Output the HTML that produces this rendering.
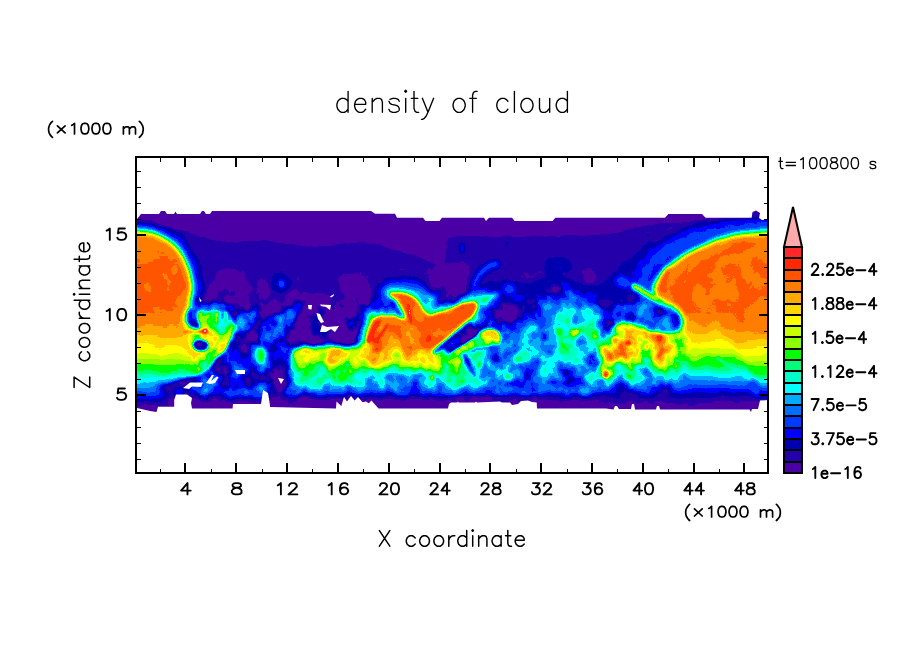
<!DOCTYPE html>
<html><head><meta charset="utf-8"><title>density of cloud</title>
<style>
html,body{margin:0;padding:0;background:#fff;}
body{width:904px;height:654px;overflow:hidden;font-family:"Liberation Sans",sans-serif;}
svg{display:block;position:absolute;left:0;top:0;}
text{font-family:"Liberation Sans",sans-serif;fill:#000;}
</style></head><body>
<svg width="904" height="654" viewBox="0 0 904 654">
<defs>
<filter id="cmap" filterUnits="userSpaceOnUse" x="0" y="0" width="904" height="654" color-interpolation-filters="sRGB"><feTurbulence type="fractalNoise" baseFrequency="0.052 0.046" numOctaves="3" seed="7" result="n"/><feColorMatrix in="n" type="matrix" values="0 0 0 0 1  1 0 0 0 0  0 0 0 0 1  0 0 0 0 1" result="n2"/><feComposite in="SourceGraphic" in2="n2" operator="arithmetic" k1="1" k2="0" k3="0" k4="0" result="p"/><feColorMatrix in="p" type="matrix" values="1 2 -1 0 0  1 2 -1 0 0  1 2 -1 0 0  0 0 0 0 1"/><feComponentTransfer><feFuncR type="discrete" tableValues="0.2941 0.2941 0.1373 0.0000 0.0000 0.0000 0.0000 0.0000 0.0000 0.0000 0.0000 0.0000 0.5490 0.7843 1.0000 1.0000 1.0000 1.0000 1.0000 1.0000 1.0000 1.0000"/><feFuncG type="discrete" tableValues="0.0000 0.0000 0.0000 0.0000 0.0000 0.2353 0.4314 0.6667 1.0000 1.0000 1.0000 1.0000 1.0000 1.0000 1.0000 0.8431 0.6667 0.4902 0.3333 0.1569 0.1569 0.6667"/><feFuncB type="discrete" tableValues="0.6471 0.6471 0.6667 0.6863 1.0000 1.0000 1.0000 1.0000 1.0000 0.7843 0.4706 0.0000 0.0000 0.0000 0.0000 0.0000 0.0000 0.0000 0.0000 0.0000 0.1569 0.6667"/></feComponentTransfer></filter>
<filter id="b0_5" filterUnits="userSpaceOnUse" x="60" y="150" width="780" height="330" color-interpolation-filters="sRGB"><feGaussianBlur stdDeviation="0.5"/></filter>
<filter id="b0_6" filterUnits="userSpaceOnUse" x="60" y="150" width="780" height="330" color-interpolation-filters="sRGB"><feGaussianBlur stdDeviation="0.6"/></filter>
<filter id="b0_8" filterUnits="userSpaceOnUse" x="60" y="150" width="780" height="330" color-interpolation-filters="sRGB"><feGaussianBlur stdDeviation="0.8"/></filter>
<filter id="b1" filterUnits="userSpaceOnUse" x="60" y="150" width="780" height="330" color-interpolation-filters="sRGB"><feGaussianBlur stdDeviation="1"/></filter>
<filter id="b1_2" filterUnits="userSpaceOnUse" x="60" y="150" width="780" height="330" color-interpolation-filters="sRGB"><feGaussianBlur stdDeviation="1.2"/></filter>
<filter id="b1_3" filterUnits="userSpaceOnUse" x="60" y="150" width="780" height="330" color-interpolation-filters="sRGB"><feGaussianBlur stdDeviation="1.3"/></filter>
<filter id="b1_4" filterUnits="userSpaceOnUse" x="60" y="150" width="780" height="330" color-interpolation-filters="sRGB"><feGaussianBlur stdDeviation="1.4"/></filter>
<filter id="b1_5" filterUnits="userSpaceOnUse" x="60" y="150" width="780" height="330" color-interpolation-filters="sRGB"><feGaussianBlur stdDeviation="1.5"/></filter>
<filter id="b1_6" filterUnits="userSpaceOnUse" x="60" y="150" width="780" height="330" color-interpolation-filters="sRGB"><feGaussianBlur stdDeviation="1.6"/></filter>
<filter id="b1_8" filterUnits="userSpaceOnUse" x="60" y="150" width="780" height="330" color-interpolation-filters="sRGB"><feGaussianBlur stdDeviation="1.8"/></filter>
<filter id="b2" filterUnits="userSpaceOnUse" x="60" y="150" width="780" height="330" color-interpolation-filters="sRGB"><feGaussianBlur stdDeviation="2"/></filter>
<filter id="b2_2" filterUnits="userSpaceOnUse" x="60" y="150" width="780" height="330" color-interpolation-filters="sRGB"><feGaussianBlur stdDeviation="2.2"/></filter>
<filter id="b2_5" filterUnits="userSpaceOnUse" x="60" y="150" width="780" height="330" color-interpolation-filters="sRGB"><feGaussianBlur stdDeviation="2.5"/></filter>
<filter id="b2_8" filterUnits="userSpaceOnUse" x="60" y="150" width="780" height="330" color-interpolation-filters="sRGB"><feGaussianBlur stdDeviation="2.8"/></filter>
<filter id="b3" filterUnits="userSpaceOnUse" x="60" y="150" width="780" height="330" color-interpolation-filters="sRGB"><feGaussianBlur stdDeviation="3"/></filter>
<filter id="b3_3" filterUnits="userSpaceOnUse" x="60" y="150" width="780" height="330" color-interpolation-filters="sRGB"><feGaussianBlur stdDeviation="3.3"/></filter>
<filter id="b3_4" filterUnits="userSpaceOnUse" x="60" y="150" width="780" height="330" color-interpolation-filters="sRGB"><feGaussianBlur stdDeviation="3.4"/></filter>
<filter id="b3_5" filterUnits="userSpaceOnUse" x="60" y="150" width="780" height="330" color-interpolation-filters="sRGB"><feGaussianBlur stdDeviation="3.5"/></filter>
<filter id="b4" filterUnits="userSpaceOnUse" x="60" y="150" width="780" height="330" color-interpolation-filters="sRGB"><feGaussianBlur stdDeviation="4"/></filter>
<filter id="b5" filterUnits="userSpaceOnUse" x="60" y="150" width="780" height="330" color-interpolation-filters="sRGB"><feGaussianBlur stdDeviation="5"/></filter>
<filter id="b5_5" filterUnits="userSpaceOnUse" x="60" y="150" width="780" height="330" color-interpolation-filters="sRGB"><feGaussianBlur stdDeviation="5.5"/></filter>
<linearGradient id="gm" gradientUnits="userSpaceOnUse" x1="0" y1="340" x2="0" y2="403"><stop offset="0.0000" stop-color="#a90000"/><stop offset="0.1905" stop-color="#a90000"/><stop offset="0.3175" stop-color="#a20000"/><stop offset="0.3651" stop-color="#970000"/><stop offset="0.4048" stop-color="#8b0000"/><stop offset="0.4841" stop-color="#800000"/><stop offset="0.5079" stop-color="#740000"/><stop offset="0.5317" stop-color="#680000"/><stop offset="0.6825" stop-color="#5d0000"/><stop offset="0.7619" stop-color="#510000"/><stop offset="0.8095" stop-color="#460000"/><stop offset="0.8492" stop-color="#3a0000"/><stop offset="0.8810" stop-color="#2e0000"/><stop offset="0.9048" stop-color="#230000"/><stop offset="0.9365" stop-color="#170000"/><stop offset="1.0000" stop-color="#0f0000"/></linearGradient>
<linearGradient id="gl" gradientUnits="userSpaceOnUse" x1="0" y1="232" x2="0" y2="410"><stop offset="0.0000" stop-color="#cb0000"/><stop offset="0.1124" stop-color="#cb0000"/><stop offset="0.1685" stop-color="#d20000"/><stop offset="0.4270" stop-color="#d20000"/><stop offset="0.4831" stop-color="#cd0000"/><stop offset="0.5281" stop-color="#c50000"/><stop offset="0.5989" stop-color="#b90000"/><stop offset="0.6388" stop-color="#ae0000"/><stop offset="0.6888" stop-color="#a20000"/><stop offset="0.7135" stop-color="#970000"/><stop offset="0.7382" stop-color="#8b0000"/><stop offset="0.7882" stop-color="#800000"/><stop offset="0.7978" stop-color="#740000"/><stop offset="0.8079" stop-color="#680000"/><stop offset="0.8478" stop-color="#5d0000"/><stop offset="0.8775" stop-color="#510000"/><stop offset="0.8989" stop-color="#460000"/><stop offset="0.9185" stop-color="#3a0000"/><stop offset="0.9371" stop-color="#2e0000"/><stop offset="0.9522" stop-color="#230000"/><stop offset="0.9669" stop-color="#170000"/><stop offset="1.0000" stop-color="#0e0000"/></linearGradient>
<linearGradient id="gr" gradientUnits="userSpaceOnUse" x1="0" y1="232" x2="0" y2="409"><stop offset="0.0000" stop-color="#cc0000"/><stop offset="0.1299" stop-color="#cd0000"/><stop offset="0.2034" stop-color="#d10000"/><stop offset="0.4520" stop-color="#d10000"/><stop offset="0.5085" stop-color="#cd0000"/><stop offset="0.5621" stop-color="#c50000"/><stop offset="0.6215" stop-color="#b90000"/><stop offset="0.6525" stop-color="#ae0000"/><stop offset="0.7119" stop-color="#a20000"/><stop offset="0.7316" stop-color="#970000"/><stop offset="0.7514" stop-color="#8b0000"/><stop offset="0.8124" stop-color="#800000"/><stop offset="0.8220" stop-color="#740000"/><stop offset="0.8305" stop-color="#680000"/><stop offset="0.8531" stop-color="#5d0000"/><stop offset="0.8701" stop-color="#510000"/><stop offset="0.8842" stop-color="#460000"/><stop offset="0.8983" stop-color="#3a0000"/><stop offset="0.9124" stop-color="#2e0000"/><stop offset="0.9379" stop-color="#230000"/><stop offset="0.9605" stop-color="#170000"/><stop offset="1.0000" stop-color="#0e0000"/></linearGradient>
<linearGradient id="gc" gradientUnits="userSpaceOnUse" x1="0" y1="232" x2="0" y2="409"><stop offset="0.0000" stop-color="#cc0000"/><stop offset="0.1299" stop-color="#cd0000"/><stop offset="0.2034" stop-color="#d10000"/><stop offset="0.4181" stop-color="#d10000"/><stop offset="0.4689" stop-color="#cd0000"/><stop offset="0.5141" stop-color="#c50000"/><stop offset="0.5706" stop-color="#b90000"/><stop offset="0.6045" stop-color="#ae0000"/><stop offset="0.6667" stop-color="#a20000"/><stop offset="0.6893" stop-color="#970000"/><stop offset="0.7119" stop-color="#8b0000"/><stop offset="0.7684" stop-color="#800000"/><stop offset="0.7797" stop-color="#740000"/><stop offset="0.7910" stop-color="#680000"/><stop offset="0.8192" stop-color="#5d0000"/><stop offset="0.8418" stop-color="#510000"/><stop offset="0.8644" stop-color="#460000"/><stop offset="0.8842" stop-color="#3a0000"/><stop offset="0.9040" stop-color="#2e0000"/><stop offset="0.9322" stop-color="#230000"/><stop offset="0.9605" stop-color="#170000"/><stop offset="1.0000" stop-color="#0e0000"/></linearGradient>
<linearGradient id="ge" gradientUnits="userSpaceOnUse" x1="0" y1="311" x2="0" y2="381"><stop offset="0.0000" stop-color="#6e0000"/><stop offset="0.1286" stop-color="#740000"/><stop offset="0.2429" stop-color="#8b0000"/><stop offset="0.3571" stop-color="#a20000"/><stop offset="0.4714" stop-color="#ac0000"/><stop offset="0.5571" stop-color="#ac0000"/><stop offset="0.6286" stop-color="#a20000"/><stop offset="0.7486" stop-color="#8b0000"/><stop offset="0.8714" stop-color="#800000"/><stop offset="0.9286" stop-color="#680000"/><stop offset="1.0000" stop-color="#510000"/></linearGradient>
<clipPath id="pc"><rect x="136" y="157" width="632" height="316"/></clipPath>
<clipPath id="env"><path clip-rule="evenodd" d="M120 219 L137 219 L141 214 L159 214 L161 211 L165 211 L167 214 L174 214 L175.5 211.5 L177 214 L200 214 L202 211 L204 211 L206 214 L210 214 L212 211 L371 211 L375 213.7 L395 213.7 L397 217.7 L423 217.7 L425.5 221 L439.5 221 L442 217.7 L484 217.7 L486 221 L489 217.7 L512 217.7 L514.6 221 L552.6 221 L555.3 217.7 L665 217.7 L668.4 214 L702 214 L705.6 217.7 L751.6 217.7 L752.5 212 L756 210.5 L760 213 L759 218 L762 220 L785 220 L785 400 L768 400 L760 400.6 L758 409 L752 409 L751 412 L749.5 409.4 L660 409.4 L659 406 L657 406 L656 409.4 L635 409.4 L634 404 L632 404 L631 409 L619 409 L617 406 L615 406 L613.5 409.4 L606 408.5 L537 408.5 L536.7 402.5 L532 402 L528 400.5 L521 401 L518 404 L512 405 L510 402.5 L502 402.5 L500 401.5 L477 402.5 L476 401.5 L475 402.5 L458.5 402.5 L458 401.5 L457 402.5 L451 402.5 L449 404 L448 408.5 L378.5 408.5 L371.4 400.6 L368.8 403.2 L366 401.5 L362.6 402.3 L358 397 L354.6 400.6 L351 396 L347 401.5 L344 397 L341.3 406 L336.5 401.5 L336 408.5 L270 407 L269.8 404 L268 393 L263 390 L261 404 L233 404 L232.6 408.5 L192 408.5 L191 403 L192 398 L187 394.5 L176 394.5 L174.2 400 L174.2 406.8 L158 406.8 L156.5 412 L150 411 L137 408 L120 408ZM183 388 L190 382.5 L203 382.5 L201 387 L192 386.5 L189 389ZM206 383 L212 375 L214 375 L211 381 L217 376.5 L218.5 377.5 L215 383 L210 384ZM235 370 L245 370 L245 374 L237 374ZM278 378 L284 379 L281 384ZM308 305 L312 305 L311.5 309.5 L308.5 309ZM320 304.5 L331 305 L330 310 L326 307 L321 306ZM316.5 313 L320 314 L324 322 L321 323 L318 319ZM320 332 L322 325 L327 327 L339 326 L335 332 L331 329 L326 332ZM330 296.5 L334 294 L333.5 296 L331 297.5ZM199 297 L201.7 301 L200 302Z"/></clipPath>
</defs>
<rect x="0" y="0" width="904" height="654" fill="#fff"/>
<g clip-path="url(#pc)">
<g clip-path="url(#env)">
<g filter="url(#cmap)">
<rect x="100" y="140" width="700" height="350" fill="#060000"/>
<path d="M100 150 L800 150 L800 480 L100 480Z" fill="#100000"/>
<path d="M120 222 L137 223 L165 226.5 L183 231 L201 236 L218 240.7 L236 242.5 L254 240 L272 240 L289 244 L308 247 L325 245 L343 243 L361 242.5 L378 245 L396 250.5 L414 255 L431 261 L441 265 L446 258 L446 238 L460 235.5 L490 236 L520 236.5 L560 235.5 L600 234 L610 233.6 L628 229 L645 225.7 L663 223 L698 220.5 L730 220 L785 220 L785 398 L120 398Z" fill="#1d0000" filter="url(#b1_2)"/>
<path d="M470 300C475 292 474.2 290.3 480 287C485.8 283.7 496.7 280.7 505 280C513.3 279.3 522.8 283.7 530 283C537.2 282.3 539.7 276.2 548 276C556.3 275.8 571.3 280.5 580 282C588.7 283.5 594.2 287 600 285C605.8 283 608.3 275.8 615 270C621.7 264.2 632.5 255 640 250C647.5 245 651.7 243.7 660 240C668.3 236.3 683.3 228 690 228C696.7 228 705 234.3 700 240C695 245.7 668.7 253.7 660 262C651.3 270.3 650.5 277.8 648 290C645.5 302.2 678 327.5 645 335C612 342.5 479.2 340.8 450 335C420.8 329.2 465 308 470 300Z" fill="#290000" filter="url(#b2_5)"/>
<path d="M203 302C199 300.2 204.3 295.5 206 292C207.7 288.5 210.5 284.7 213 281C215.5 277.3 217.2 271.8 221 270C224.8 268.2 231 267.8 236 270.5C241 273.2 247.7 282.6 251 286C254.3 289.4 254.9 291.7 256 291C257.1 290.3 256.2 283.8 257.5 282C258.8 280.2 261 278.6 263.5 280C266 281.4 269.9 287 272.5 290.5C275.1 294 275.9 299.9 279 301C282.1 302.1 288 298.3 291 297C294 295.7 295 293 297 293C299 293 300.8 296.5 303 297C305.2 297.5 307.2 296.2 310 296C312.8 295.8 315.3 296.3 320 296C324.7 295.7 335 297.2 338 294C341 290.8 336 280.3 338 277C340 273.7 346 274 350 274C354 274 358.8 275.2 362 277C365.2 278.8 367.5 281.8 369 285C370.5 288.2 371.5 291.8 371 296C370.5 300.2 369.2 306 366 310C362.8 314 356 315.7 352 320C348 324.3 346.5 332.3 342 336C337.5 339.7 331.2 341.3 325 342C318.8 342.7 309.7 342.8 305 340C300.3 337.2 299.5 330 297 325C294.5 320 296.2 313 290 310C283.8 307 270 308.2 260 307C250 305.8 239.5 303.8 230 303C220.5 302.2 207 303.8 203 302Z" fill="#110000" filter="url(#b1_8)"/>
<path d="M428 300C426.3 296.3 428.7 285.3 430 280C431.3 274.7 433 270.8 436 268C439 265.2 443.7 264 448 263C452.3 262 458.7 260.8 462 262C465.3 263.2 467.3 266.5 468 270C468.7 273.5 467.3 279.3 466 283C464.7 286.7 462.7 289.5 460 292C457.3 294.5 453.3 296.3 450 298C446.7 299.7 443.7 301.7 440 302C436.3 302.3 429.7 303.7 428 300Z" fill="#110000" filter="url(#b2)"/>
<ellipse cx="590" cy="277.5" rx="5.5" ry="6" fill="#110000" filter="url(#b1_5)"/>
<path d="M544 268C544.3 265.5 545.7 261.8 548 260C550.3 258.2 554.7 257.2 558 257C561.3 256.8 565.5 257.5 568 259C570.5 260.5 572.7 263.8 573 266C573.3 268.2 571.8 270.7 570 272C568.2 273.3 562.5 273 562 274C561.5 275 565 277.2 567 278C569 278.8 574.2 278.3 574 279C573.8 279.7 569.5 281.8 566 282C562.5 282.2 556.3 281.2 553 280C549.7 278.8 547.5 277 546 275C544.5 273 543.7 270.5 544 268Z" fill="#290000" filter="url(#b1_2)"/>
<ellipse cx="560" cy="267.5" rx="2" ry="1" fill="#340000" filter="url(#b0_6)"/>
<path d="M476 300C475.7 297.7 473.3 290.3 474 286C474.7 281.7 477.5 277.3 480 274C482.5 270.7 486.2 267.7 489 266C491.8 264.3 495.7 264.3 497 264" fill="none" stroke="#400000" stroke-width="7" stroke-linecap="round" stroke-linejoin="round" filter="url(#b2)"/>
<ellipse cx="282" cy="284" rx="11" ry="10" fill="#290000" filter="url(#b2_5)"/>
<ellipse cx="281.7" cy="284" rx="3.5" ry="4" fill="#400000" filter="url(#b1_2)"/>
<ellipse cx="462" cy="248" rx="2.5" ry="5" fill="#300000" filter="url(#b1_2)"/>
<ellipse cx="509" cy="289" rx="6" ry="5.5" fill="#400000" filter="url(#b2)"/>
<path d="M378 288C380 285.5 386.7 282.3 392 281C397.3 279.7 404.7 279.2 410 280C415.3 280.8 420.3 283.2 424 286C427.7 288.8 429.7 294 432 297C434.3 300 434.7 303.7 438 304C441.3 304.3 447 300.8 452 299C457 297.2 463 294.2 468 293C473 291.8 478.5 290.8 482 292C485.5 293.2 488.7 296 489 300C489.3 304 487.2 310.7 484 316C480.8 321.3 474.8 327.2 470 332C465.2 336.8 460 341.7 455 345C450 348.3 449.2 350.2 440 352C430.8 353.8 411.7 356 400 356C388.3 356 377.2 353.3 370 352C362.8 350.7 359.2 351.7 357 348C354.8 344.3 355.8 335.7 357 330C358.2 324.3 361.2 318 364 314C366.8 310 370.7 307.8 374 306C377.3 304.2 383 304.7 384 303C385 301.3 381 298.5 380 296C379 293.5 376 290.5 378 288Z" fill="#460000" filter="url(#b4)"/>
<path d="M386 290C388 287.8 398.5 288 404 289C409.5 290 415 292.8 419 296C423 299.2 425.7 305.5 428 308C430.3 310.5 429.3 311.7 433 311C436.7 310.3 444.7 306.1 450 304C455.3 301.9 460.3 299.5 465 298.5C469.7 297.5 475.2 296.9 478 298C480.8 299.1 482 301.8 482 305C482 308.2 481 312.8 478 317C475 321.2 468.3 326 464 330C459.7 334 456 337.8 452 341C448 344.2 444.5 346.8 440 349C435.5 351.2 431.7 353.3 425 354C418.3 354.7 408.3 353.7 400 353C391.7 352.3 381.3 351 375 350C368.7 349 364 350 362 347C360 344 361.8 336.8 363 332C364.2 327.2 366.5 321.3 369 318C371.5 314.7 374.2 313.2 378 312C381.8 310.8 388.7 311.3 392 311C395.3 310.7 398 311.5 398 310C398 308.5 394 305.3 392 302C390 298.7 384 292.2 386 290Z" fill="#740000" filter="url(#b2_8)"/>
<path d="M478 303C479.7 302.2 484.8 299.5 488 298C491.2 296.5 495.5 294.7 497 294" fill="none" stroke="#5d0000" stroke-width="5" stroke-linecap="round" stroke-linejoin="round" filter="url(#b2)"/>
<path d="M175 388 L200 390 L230 388 L250 378 L262 372 L275 376 L286 362 L292 347 L310 346 L330 346 L345 348 L365 343 L400 343 L440 348 L455 356 L475 354 L498 350 L505 340 L520 340 L560 340 L600 340 L620 335 L640 330 L680 330 L700 330 L785 330 L785 420 L175 420Z" fill="url(#gm)" filter="url(#b2_5)"/>
<path d="M452 400 L495 400 L536 400" fill="none" stroke="#150000" stroke-width="7" stroke-linecap="round" stroke-linejoin="round" filter="url(#b1_5)"/>
<path d="M492 362C491.8 354.7 495.2 346.3 497 340C498.8 333.7 499.8 328 503 324C506.2 320 511.5 318.7 516 316C520.5 313.3 525.5 310.7 530 308C534.5 305.3 538.7 302.7 543 300C547.3 297.3 551.6 293.3 556 292C560.4 290.7 565 290.8 569.5 292C574 293.2 578.6 296.8 583 299C587.4 301.2 591.7 302.7 596 305.5C600.3 308.3 606.3 310.2 609 316C611.7 321.8 612.5 328.5 612 340C611.5 351.5 614.7 377 606 385C597.3 393 574.3 387.7 560 388C545.7 388.3 530.3 387.7 520 387C509.7 386.3 502.7 388.2 498 384C493.3 379.8 492.2 369.3 492 362Z" fill="#420000" filter="url(#b2_5)"/>
<path d="M497 350C498.8 346.5 501.2 346.3 505 343C508.8 339.7 514.5 333.7 520 330C525.5 326.3 532 323.8 538 321C544 318.2 549.8 315.2 556 313C562.2 310.8 569.2 309.3 575 308C580.8 306.7 585.8 303.3 591 305C596.2 306.7 604.3 312.2 606 318C607.7 323.8 602.5 330 601 340C599.5 350 603.8 371.2 597 378C590.2 384.8 572.8 380.7 560 381C547.2 381.3 530 380.8 520 380C510 379.2 504.3 378.7 500 376C495.7 373.3 494.5 368.3 494 364C493.5 359.7 495.2 353.5 497 350Z" fill="#4e0000" filter="url(#b3)"/>
<path d="M538 345C537.5 339.3 542 332.5 545 328C548 323.5 551 320.8 556 318C561 315.2 569.2 312.7 575 311C580.8 309.3 586.3 306.5 591 308C595.7 309.5 601.8 314.7 603 320C604.2 325.3 599.8 333.3 598 340C596.2 346.7 596.7 355.7 592 360C587.3 364.3 577.3 365.7 570 366C562.7 366.3 553.3 365.5 548 362C542.7 358.5 538.5 350.7 538 345Z" fill="#5f0000" filter="url(#b3)"/>
<ellipse cx="558.8" cy="332" rx="4" ry="4.5" fill="#8b0000" filter="url(#b1_8)"/>
<ellipse cx="575" cy="332" rx="5" ry="3.5" fill="#8b0000" filter="url(#b1_8)"/>
<ellipse cx="596.5" cy="334.6" rx="3.5" ry="5" fill="#8b0000" filter="url(#b1_8)"/>
<ellipse cx="523" cy="357" rx="8" ry="6" fill="#740000" filter="url(#b1_8)"/>
<ellipse cx="508" cy="377" rx="5" ry="4" fill="#6e0000" filter="url(#b1_8)"/>
<ellipse cx="585" cy="350" rx="9" ry="6" fill="#740000" filter="url(#b1_8)"/>
<ellipse cx="543" cy="337" rx="4" ry="4" fill="#460000" filter="url(#b1_8)"/>
<ellipse cx="566.8" cy="341" rx="4" ry="3.5" fill="#460000" filter="url(#b1_8)"/>
<ellipse cx="495" cy="358.5" rx="4" ry="6" fill="#400000" filter="url(#b1_8)"/>
<ellipse cx="532" cy="372" rx="6" ry="4" fill="#4b0000" filter="url(#b1_8)"/>
<ellipse cx="560" cy="365" rx="8" ry="4" fill="#510000" filter="url(#b1_8)"/>
<ellipse cx="585" cy="372" rx="7" ry="4" fill="#4b0000" filter="url(#b1_8)"/>
<ellipse cx="609" cy="330" rx="4" ry="6" fill="#4b0000" filter="url(#b1_8)"/>
<path d="M210 312C211 305.8 226.7 305.3 232 308C237.3 310.7 237 323 242 328C247 333 254 335.5 262 338C270 340.5 285 341 290 343C295 345 292.5 342.5 292 350C291.5 357.5 294 380 287 388C280 396 265.3 396.3 250 398C234.7 399.7 203.3 401.3 195 398C186.7 394.7 194.8 386.8 200 378C205.2 369.2 224.3 356 226 345C227.7 334 209 318.2 210 312Z" fill="#310000" filter="url(#b3)"/>
<path d="M226 308C230.5 306.7 249.3 309.2 260 310C270.7 310.8 284 309.7 290 313C296 316.3 294.2 324.8 296 330C297.8 335.2 302.8 341 301 344C299.2 347 291.5 348.7 285 348C278.5 347.3 269.2 343 262 340C254.8 337 246.8 333.7 242 330C237.2 326.3 235.7 321.7 233 318C230.3 314.3 221.5 309.3 226 308Z" fill="#380000" filter="url(#b2_5)"/>
<path d="M197 304C199.7 302.7 209.2 302.7 215 303C220.8 303.3 229.2 304.3 232 306C234.8 307.7 234.8 312 232 313C229.2 314 220.5 312.3 215 312C209.5 311.7 202 312.3 199 311C196 309.7 194.3 305.3 197 304Z" fill="#400000" filter="url(#b2)"/>
<ellipse cx="245" cy="355" rx="8" ry="8" fill="#150000" filter="url(#b2_5)"/>
<ellipse cx="221" cy="371" rx="8" ry="6" fill="#150000" filter="url(#b2_5)"/>
<ellipse cx="279" cy="377" rx="9" ry="12" fill="#150000" filter="url(#b3)"/>
<path d="M233 340C233.3 338.3 234 333.3 235 330C236 326.7 238.3 321.7 239 320" fill="none" stroke="#510000" stroke-width="4" stroke-linecap="round" stroke-linejoin="round" filter="url(#b1_8)"/>
<ellipse cx="261" cy="361" rx="6" ry="14" fill="#680000" filter="url(#b2_5)"/>
<ellipse cx="260.5" cy="358" rx="3" ry="6" fill="#7a0000" filter="url(#b1_5)"/>
<path d="M203 392C206.7 392.2 217.2 393.2 225 393C232.8 392.8 245.8 391.3 250 391" fill="none" stroke="#4b0000" stroke-width="5" stroke-linecap="round" stroke-linejoin="round" filter="url(#b2)"/>
<path d="M183 322C189.7 322.7 187.2 325.2 190 326C192.8 326.8 199 328.3 200 327C201 325.7 196.5 320.5 196 318C195.5 315.5 195.5 313.2 197 312C198.5 310.8 201.7 311.2 205 311C208.3 310.8 213 310.7 217 311C221 311.3 226.1 310.4 229 313C231.9 315.6 234.2 322.2 234.5 326.5C234.8 330.8 232.2 335.1 230.6 339C229 342.9 227.5 346.5 225 350C222.5 353.5 218.2 356.8 215.5 360C212.8 363.2 211.6 366.8 208.6 369.4C205.6 372 200.9 374.1 197.5 375.5C194.1 376.9 195.9 377.1 188 378C180.1 378.9 156.3 390.3 150 381C143.7 371.7 144.5 331.8 150 322C155.5 312.2 176.3 321.3 183 322Z" fill="url(#ge)" filter="url(#b1_6)"/>
<path d="M110 226.8C114.5 226.8 130.5 226.7 137 226.8C143.5 226.9 145.2 227 149 227.5C152.8 228 156.1 228.5 159.5 229.6C162.9 230.7 166.2 231.9 169.5 233.8C172.8 235.7 176.1 238 179 240.8C181.9 243.6 184.7 247 187 250.5C189.3 254 191.3 258.1 193 262C194.7 265.9 196 269.7 197 274C198 278.3 198.8 284 199 288C199.2 292 198.2 296.3 198 298" fill="none" stroke="#390000" stroke-width="7" stroke-linecap="round" stroke-linejoin="round" filter="url(#b3)"/>
<path d="M110 230.3C114.5 198.7 130.7 230.3 137 230.5C143.3 230.7 144.3 230.7 147.7 231.2C151.1 231.7 154.4 232.2 157.5 233.4C160.6 234.6 163.5 236.3 166.4 238.2C169.3 240.1 172.4 242.1 175 244.6C177.6 247.1 179.9 250.1 182 253.4C184.1 256.7 185.8 260.6 187.3 264.2C188.8 267.8 190.1 271.2 191 275.3C191.9 279.4 192.9 285.1 193 288.5C193.1 291.9 191.8 293.1 191.5 296C191.2 298.9 191.8 303.3 191 306C190.2 308.7 187.9 309.3 187 312C186.1 314.7 185.3 318.8 185.5 322C185.7 325.2 187.2 328.3 188 331C188.8 333.7 190.2 335.7 190 338C189.8 340.3 188 342 187 345C186 348 185.3 352.5 184 356C182.7 359.5 182 363.3 179 366C176 368.7 169.3 369.7 166 372C162.7 374.3 159.8 377 159 380C158.2 383 159.8 386.7 161 390C162.2 393.3 164.3 395 166 400C167.7 405 180.3 416.7 171 420C161.7 423.3 120.2 451.6 110 420C99.8 388.4 105.5 261.9 110 230.3Z" fill="url(#gl)" filter="url(#b3_3)"/>
<ellipse cx="192.5" cy="316" rx="4.5" ry="7" fill="#2e0000" transform="rotate(-20 192.5 316)" filter="url(#b1_5)"/>
<ellipse cx="201" cy="345.5" rx="8" ry="5.5" fill="#290000" filter="url(#b1_5)"/>
<path d="M184 332C186 332 192.7 332.1 196 332C199.3 331.9 202.7 331.6 204 331.5" fill="none" stroke="#d10000" stroke-width="3" stroke-linecap="round" stroke-linejoin="round" filter="url(#b1)"/>
<ellipse cx="205" cy="331" rx="2.3" ry="2.3" fill="#f30000" filter="url(#b0_8)"/>
<path d="M216.7 313C216.7 314.8 216.7 322.2 216.7 324" fill="none" stroke="#a20000" stroke-width="2.5" stroke-linecap="round" stroke-linejoin="round" filter="url(#b1)"/>
<path d="M225.6 313C225.6 314.7 225.6 321.3 225.6 323" fill="none" stroke="#a20000" stroke-width="2.5" stroke-linecap="round" stroke-linejoin="round" filter="url(#b1)"/>
<path d="M636 300C637.8 295.7 641.7 292.7 645 292C648.3 291.3 651.8 294 656 296C660.2 298 666 301.7 670 304C674 306.3 677.8 306.5 680 310C682.2 313.5 683.7 321 683 325C682.3 329 680.7 332.7 676 334C671.3 335.3 661 333.7 655 333C649 332.3 643.5 332.5 640 330C636.5 327.5 634.7 323 634 318C633.3 313 634.2 304.3 636 300Z" fill="#400000" filter="url(#b2_5)"/>
<path d="M795 225C790.8 225.1 777.5 225.2 770 225.4C762.5 225.7 756.7 225.9 750 226.5C743.3 227.1 736.5 227.9 730 229C723.5 230.1 717.3 231.2 711 233C704.7 234.8 698.3 237 692 239.5C685.7 242 678.5 245 673 248C667.5 251 663 254.2 659 257.5C655 260.8 651.7 263.9 649 267.5C646.3 271.1 644.2 275.1 643 279C641.8 282.9 642.2 289 642 291" fill="none" stroke="#420000" stroke-width="15" stroke-linecap="round" stroke-linejoin="round" filter="url(#b5_5)"/>
<path d="M795 231C790.8 199.6 777.2 231.4 770 231.6C762.8 231.8 758 231.9 752 232.4C746 232.9 740 233.6 734 234.8C728 236 721.9 237.7 716 239.8C710.1 241.9 704.2 244.5 698.5 247.3C692.8 250.1 686.5 253.4 681.5 256.5C676.5 259.6 672.3 262.6 668.6 265.8C664.9 269 661.9 272.3 659.5 275.5C657.1 278.7 655 282.1 654 285C653 287.9 652.9 290.5 653.5 293C654.1 295.5 655.8 298.1 657.5 300C659.2 301.9 661.2 303.3 664 304.5C666.8 305.7 671.5 305.6 674 307C676.5 308.4 677.7 310.5 679 313C680.3 315.5 682.3 318.7 682 322C681.7 325.3 679.3 330.3 677 333C674.7 335.7 672.5 337.5 668 338C663.5 338.5 655.2 337.7 650 336C644.8 334.3 640.7 330 637 328C633.3 326 631.2 324.2 628 324C624.8 323.8 621.2 325 618 327C614.8 329 611.5 333 609 336C606.5 339 605.2 341.5 603 345C600.8 348.5 596.5 352.8 596 357C595.5 361.2 598.3 365.3 600 370C601.7 374.7 604.3 376.7 606 385C607.7 393.3 578.5 414.2 610 420C641.5 425.8 764.2 451.5 795 420C825.8 388.5 799.2 262.4 795 231Z" fill="url(#gc)" filter="url(#b3_4)"/>
<path d="M722 322C710 324.7 725.7 333.2 728 338C730.3 342.8 733 346.3 736 351C739 355.7 742.5 360.8 746 366C749.5 371.2 753.7 376.7 757 382C760.3 387.3 763.5 392.5 766 398C768.5 403.5 766.3 412.2 772 415C777.7 417.8 795.3 430.5 800 415C804.7 399.5 813 337.5 800 322C787 306.5 734 319.3 722 322Z" fill="url(#gr)" filter="url(#b2_2)"/>
<path d="M717 358C720 359.9 729.2 365.7 735 369.5C740.8 373.3 749.2 379.1 752 381" fill="none" stroke="#6e0000" stroke-width="2.2" stroke-linecap="round" stroke-linejoin="round" filter="url(#b1_2)"/>
<ellipse cx="755" cy="389" rx="5" ry="10" fill="#3b0000" transform="rotate(-25 755 389)" filter="url(#b2)"/>
<path d="M669 269C668.1 270.7 664.5 275.3 663.5 279C662.5 282.7 663.1 289 663 291" fill="none" stroke="#e40000" stroke-width="3.5" stroke-linecap="round" stroke-linejoin="round" filter="url(#b2)"/>
<path d="M720 246C716.7 247.3 706 250.8 700 254C694 257.2 688.3 261 684 265C679.7 269 676.2 273.5 674 278C671.8 282.5 671.5 289.7 671 292" fill="none" stroke="#ce0000" stroke-width="5" stroke-linecap="round" stroke-linejoin="round" filter="url(#b2_5)"/>
<path d="M760 243C755 244.2 738.7 246.8 730 250C721.3 253.2 714 257.5 708 262C702 266.5 697.3 271.7 694 277C690.7 282.3 688.7 288.5 688 294C687.3 299.5 689.7 307.3 690 310" fill="none" stroke="#db0000" stroke-width="5" stroke-linecap="round" stroke-linejoin="round" filter="url(#b2_5)"/>
<path d="M768 262C763.3 263 747.7 265 740 268C732.3 271 726.7 275.3 722 280C717.3 284.7 713.7 290.2 712 296C710.3 301.8 712 311.8 712 315" fill="none" stroke="#cf0000" stroke-width="6" stroke-linecap="round" stroke-linejoin="round" filter="url(#b3)"/>
<path d="M768 290C765 291 754.7 292.7 750 296C745.3 299.3 741.3 305.7 740 310C738.7 314.3 741.7 320 742 322" fill="none" stroke="#db0000" stroke-width="5" stroke-linecap="round" stroke-linejoin="round" filter="url(#b3)"/>
<path d="M634 286C636.2 287.3 642.7 291.4 647 294C651.3 296.6 657.8 300.2 660 301.5" fill="none" stroke="#970000" stroke-width="5" stroke-linecap="round" stroke-linejoin="round" filter="url(#b1_8)"/>
<ellipse cx="623" cy="282" rx="8" ry="5" fill="#460000" transform="rotate(20 623 282)" filter="url(#b2_5)"/>
<path d="M600 352C600.3 347.7 603.3 342 606 338C608.7 334 612 330.3 616 328C620 325.7 625.3 323.7 630 324C634.7 324.3 639 328 644 330C649 332 654.7 335 660 336C665.3 337 672 334.7 676 336C680 337.3 684 340.7 684 344C684 347.3 681.7 353.3 676 356C670.3 358.7 659.3 359 650 360C640.7 361 627.7 361.3 620 362C612.3 362.7 607.3 365.7 604 364C600.7 362.3 599.7 356.3 600 352Z" fill="#ae0000" filter="url(#b3_5)"/>
<ellipse cx="615" cy="340" rx="3" ry="3" fill="#dc0000" filter="url(#b1_2)"/>
<ellipse cx="628" cy="343" rx="3.5" ry="2.5" fill="#dc0000" filter="url(#b1_2)"/>
<ellipse cx="646" cy="347" rx="3" ry="3" fill="#d10000" filter="url(#b1_2)"/>
<ellipse cx="606" cy="357" rx="3" ry="4" fill="#ae0000" filter="url(#b1_2)"/>
<ellipse cx="606" cy="374" rx="3" ry="4" fill="#a80000" filter="url(#b1_2)"/>
<ellipse cx="402" cy="347" rx="36" ry="6" fill="#c90000" filter="url(#b3)"/>
<path d="M389.8 293.9C391 292.7 398.7 292.1 403 293C407.3 293.9 412 296.1 415.5 299C419 301.9 421.4 308 424 310.7C426.6 313.4 427.2 315.3 431.4 315C435.6 314.7 443.7 310.9 449 309C454.3 307.1 458.8 304.8 463 303.6C467.2 302.4 471.6 301.7 474 302C476.4 302.3 477.4 303.4 477.4 305.4C477.4 307.4 476.9 310.5 474 314C471.1 317.5 464.2 322.8 460 326.6C455.8 330.4 452.6 334.1 449 337C445.4 339.9 442 342.2 438.5 344C435 345.8 432.4 347.3 428 348C423.6 348.7 417.7 348.3 412 348C406.3 347.7 399.9 346.7 394 346C388.1 345.3 381 344.6 376.5 344C372 343.4 368.5 344.2 367 342.5C365.5 340.8 366.7 337.3 367.7 333.7C368.7 330.1 370.9 323.9 373 321C375.1 318.1 376.5 316.8 380 316C383.5 315.2 389.8 315.4 394 316C398.2 316.6 403.5 320.7 405 319.5C406.5 318.3 404.5 312.2 403 309C401.5 305.8 398.2 302.5 396 300C393.8 297.5 388.6 295.1 389.8 293.9Z" fill="#d50000" filter="url(#b1_5)"/>
<path d="M369 341C367.5 338.6 369.7 333.2 371 330C372.3 326.8 374.2 323.7 377 322C379.8 320.3 383.8 319.7 388 320C392.2 320.3 396.7 322.3 402 324C407.3 325.7 413.7 328.3 420 330C426.3 331.7 437.3 331.8 440 334C442.7 336.2 438.7 340.9 436 343C433.3 345.1 430 346 424 346.5C418 347 407.3 346.3 400 346C392.7 345.7 385.2 345.3 380 344.5C374.8 343.7 370.5 343.4 369 341Z" fill="#cb0000" filter="url(#b2)"/>
<path d="M391 303C391.8 304 394.3 307.1 396 309C397.7 310.9 400.2 313.6 401 314.5" fill="none" stroke="#3a0000" stroke-width="4" stroke-linecap="round" stroke-linejoin="round" filter="url(#b1_5)"/>
<path d="M368 341C368.8 339.3 371.2 334.2 373 331C374.8 327.8 378 323.5 379 322" fill="none" stroke="#e90000" stroke-width="3" stroke-linecap="round" stroke-linejoin="round" filter="url(#b1)"/>
<path d="M377 341C378 339.3 381.2 333.8 383 331C384.8 328.2 387.2 325.2 388 324" fill="none" stroke="#e40000" stroke-width="2.5" stroke-linecap="round" stroke-linejoin="round" filter="url(#b1)"/>
<path d="M408 305C408.3 306.5 409.5 311 410 314C410.5 317 410.8 321.5 411 323" fill="none" stroke="#e90000" stroke-width="2.5" stroke-linecap="round" stroke-linejoin="round" filter="url(#b1)"/>
<path d="M409.5 310C409.6 311.3 410.2 316.7 410.3 318" fill="none" stroke="#f90000" stroke-width="1" stroke-linecap="round" stroke-linejoin="round" filter="url(#b0_5)"/>
<path d="M462 354C464.2 350.2 473.5 351 480 350C486.5 349 497 346 501 348C505 350 504.2 356.5 504 362C503.8 367.5 504.3 377.2 500 381C495.7 384.8 483.5 386.3 478 385C472.5 383.7 469.7 378.2 467 373C464.3 367.8 459.8 357.8 462 354Z" fill="#590000" filter="url(#b2_5)"/>
<path d="M434.6 352C437.5 349.9 446.1 344.1 452 339.5C457.9 334.9 467 327.1 470 324.6" fill="none" stroke="#2c0000" stroke-width="4.5" stroke-linecap="round" stroke-linejoin="round" filter="url(#b1_4)"/>
<path d="M446 359.5C447.5 357.4 455 352.1 459 349C463 345.9 466.8 343.7 470 341C473.2 338.3 475.3 335 478 333C480.7 331 482.8 329.4 486 329C489.2 328.6 494.6 329.2 497 330.5C499.4 331.8 500.3 334.6 500.5 337C500.7 339.4 500.9 343.3 498 345C495.1 346.7 487.2 346.3 483 347C478.8 347.7 476.8 347.5 473 349C469.2 350.5 463.8 353.9 460 356C456.2 358.1 452.3 360.9 450 361.5C447.7 362.1 444.5 361.6 446 359.5Z" fill="#980000" filter="url(#b1_6)"/>
<path d="M481 336C481.5 334.5 484.5 332.2 487 331.5C489.5 330.8 494.2 331.1 496 332C497.8 332.9 498.2 335.7 497.5 337C496.8 338.3 494.2 339.4 492 340C489.8 340.6 485.8 341.2 484 340.5C482.2 339.8 480.5 337.5 481 336Z" fill="#ad0000" filter="url(#b1_2)"/>
<path d="M450 355.5C451.8 354.3 457.2 350.9 461 348.5C464.8 346.1 471 342.2 473 341" fill="none" stroke="#aa0000" stroke-width="2.5" stroke-linecap="round" stroke-linejoin="round" filter="url(#b1_2)"/>
<path d="M465 356C465.8 357.7 467.9 362.7 469.5 366C471.1 369.3 473.7 374.3 474.5 376" fill="none" stroke="#340000" stroke-width="3.5" stroke-linecap="round" stroke-linejoin="round" filter="url(#b1_3)"/>
<ellipse cx="494.5" cy="359" rx="4.5" ry="4.5" fill="#300000" filter="url(#b1_5)"/>
<ellipse cx="479.3" cy="364.5" rx="3" ry="3.5" fill="#800000" filter="url(#b1_2)"/>
<ellipse cx="432" cy="377.6" rx="2.5" ry="2.5" fill="#970000" filter="url(#b1_2)"/>
<g style="mix-blend-mode:lighten">
<rect x="100" y="150" width="700" height="340" fill="#000909"/>
<path d="M198 302C201.8 294.7 198 297 215 296C232 295 274.2 295.3 300 296C325.8 296.7 353.3 300 370 300C386.7 300 383.3 297.7 400 296C416.7 294.3 453.3 289.3 470 290C486.7 290.7 490 298.3 500 300C510 301.7 520.7 302.3 530 300C539.3 297.7 546.8 287.3 556 286C565.2 284.7 576 288.8 585 292C594 295.2 600.8 305.3 610 305C619.2 304.7 631.3 291.2 640 290C648.7 288.8 655 294.7 662 298C669 301.3 678.3 303 682 310C685.7 317 685 327 684 340C683 353 690 379 676 388C662 397 646 393 600 394C554 395 466.7 393.5 400 394C333.3 394.5 235.7 399 200 397C164.3 395 187.3 391.5 186 382C184.7 372.5 190 353.3 192 340C194 326.7 194.2 309.3 198 302Z" fill="#004040" filter="url(#b4)"/>
<ellipse cx="214" cy="330" rx="17" ry="20" fill="#005454" filter="url(#b5)"/>
<path d="M594 345C596.7 337 605 326.5 612 322C619 317.5 628 316.7 636 318C644 319.3 652 327 660 330C668 333 679.7 330.7 684 336C688.3 341.3 691.7 356 686 362C680.3 368 662.7 369 650 372C637.3 375 619 380.3 610 380C601 379.7 598.7 375.8 596 370C593.3 364.2 591.3 353 594 345Z" fill="#005c5c" filter="url(#b4)"/>
<path d="M196 300C213.3 298.7 282.7 296.5 300 304C317.3 311.5 311.3 338.2 300 345C288.7 351.8 244.5 350.5 232 345C219.5 339.5 231 317.5 225 312C219 306.5 200.8 314 196 312C191.2 310 178.7 301.3 196 300Z" fill="#004c4c" filter="url(#b4)"/>
<path d="M389.8 293.9C391 292.7 398.7 292.1 403 293C407.3 293.9 412 296.1 415.5 299C419 301.9 421.4 308 424 310.7C426.6 313.4 427.2 315.3 431.4 315C435.6 314.7 443.7 310.9 449 309C454.3 307.1 458.8 304.8 463 303.6C467.2 302.4 471.6 301.7 474 302C476.4 302.3 477.4 303.4 477.4 305.4C477.4 307.4 476.9 310.5 474 314C471.1 317.5 464.2 322.8 460 326.6C455.8 330.4 452.6 334.1 449 337C445.4 339.9 442 342.2 438.5 344C435 345.8 432.4 347.3 428 348C423.6 348.7 417.7 348.3 412 348C406.3 347.7 399.9 346.7 394 346C388.1 345.3 381 344.6 376.5 344C372 343.4 368.5 344.2 367 342.5C365.5 340.8 366.7 337.3 367.7 333.7C368.7 330.1 370.9 323.9 373 321C375.1 318.1 376.5 316.8 380 316C383.5 315.2 389.8 315.4 394 316C398.2 316.6 403.5 320.7 405 319.5C406.5 318.3 404.5 312.2 403 309C401.5 305.8 398.2 302.5 396 300C393.8 297.5 388.6 295.1 389.8 293.9Z" fill="#000d0d" filter="url(#b3)"/>
<path d="M369 341C367.5 338.6 369.7 333.2 371 330C372.3 326.8 374.2 323.7 377 322C379.8 320.3 383.8 319.7 388 320C392.2 320.3 396.7 322.3 402 324C407.3 325.7 413.7 328.3 420 330C426.3 331.7 437.3 331.8 440 334C442.7 336.2 438.7 340.9 436 343C433.3 345.1 430 346 424 346.5C418 347 407.3 346.3 400 346C392.7 345.7 385.2 345.3 380 344.5C374.8 343.7 370.5 343.4 369 341Z" fill="#002424" filter="url(#b2)"/>
</g>
</g>
</g>
</g>
<path d="M136 157H768V473H136Z" fill="none" stroke="#000" stroke-width="2" shape-rendering="crispEdges"/>
<path d="M161 158v4h-1v-4zM161 472v-3h-1v3zM186 158v9h-2v-9zM186 472v-9h-2v9zM212 158v4h-1v-4zM212 472v-3h-1v3zM237 158v9h-2v-9zM237 472v-9h-2v9zM263 158v4h-1v-4zM263 472v-3h-1v3zM288 158v9h-2v-9zM288 472v-9h-2v9zM313 158v4h-1v-4zM313 472v-3h-1v3zM339 158v9h-2v-9zM339 472v-9h-2v9zM364 158v4h-1v-4zM364 472v-3h-1v3zM390 158v9h-2v-9zM390 472v-9h-2v9zM415 158v4h-1v-4zM415 472v-3h-1v3zM441 158v9h-2v-9zM441 472v-9h-2v9zM466 158v4h-1v-4zM466 472v-3h-1v3zM491 158v9h-2v-9zM491 472v-9h-2v9zM517 158v4h-1v-4zM517 472v-3h-1v3zM542 158v9h-2v-9zM542 472v-9h-2v9zM568 158v4h-1v-4zM568 472v-3h-1v3zM593 158v9h-2v-9zM593 472v-9h-2v9zM618 158v4h-1v-4zM618 472v-3h-1v3zM644 158v9h-2v-9zM644 472v-9h-2v9zM669 158v4h-1v-4zM669 472v-3h-1v3zM695 158v9h-2v-9zM695 472v-9h-2v9zM720 158v4h-1v-4zM720 472v-3h-1v3zM745 158v9h-2v-9zM745 472v-9h-2v9zM137 459h4v1h-4zM767 459h-3v1h3zM137 443h4v1h-4zM767 443h-3v1h3zM137 427h4v1h-4zM767 427h-3v1h3zM137 411h4v1h-4zM767 411h-3v1h3zM137 394h9v2h-9zM767 394h-8v2h8zM137 379h4v1h-4zM767 379h-3v1h3zM137 363h4v1h-4zM767 363h-3v1h3zM137 347h4v1h-4zM767 347h-3v1h3zM137 331h4v1h-4zM767 331h-3v1h3zM137 314h9v2h-9zM767 314h-8v2h8zM137 299h4v1h-4zM767 299h-3v1h3zM137 283h4v1h-4zM767 283h-3v1h3zM137 267h4v1h-4zM767 267h-3v1h3zM137 251h4v1h-4zM767 251h-3v1h3zM137 234h9v2h-9zM767 234h-8v2h8zM137 219h4v1h-4zM767 219h-3v1h3zM137 203h4v1h-4zM767 203h-3v1h3zM137 187h4v1h-4zM767 187h-3v1h3zM137 171h4v1h-4zM767 171h-3v1h3z" fill="#000" shape-rendering="crispEdges"/>
<rect x="784" y="461.7" width="18" height="11.3" fill="rgb(75,0,165)"/><rect x="784" y="450.4" width="18" height="11.3" fill="rgb(35,0,170)"/><rect x="784" y="439.1" width="18" height="11.3" fill="rgb(0,0,175)"/><rect x="784" y="427.8" width="18" height="11.3" fill="rgb(0,0,255)"/><rect x="784" y="416.5" width="18" height="11.3" fill="rgb(0,60,255)"/><rect x="784" y="405.2" width="18" height="11.3" fill="rgb(0,110,255)"/><rect x="784" y="393.9" width="18" height="11.3" fill="rgb(0,170,255)"/><rect x="784" y="382.6" width="18" height="11.3" fill="rgb(0,255,255)"/><rect x="784" y="371.3" width="18" height="11.3" fill="rgb(0,255,200)"/><rect x="784" y="360" width="18" height="11.3" fill="rgb(0,255,120)"/><rect x="784" y="348.7" width="18" height="11.3" fill="rgb(0,255,0)"/><rect x="784" y="337.4" width="18" height="11.3" fill="rgb(140,255,0)"/><rect x="784" y="326.1" width="18" height="11.3" fill="rgb(200,255,0)"/><rect x="784" y="314.8" width="18" height="11.3" fill="rgb(255,255,0)"/><rect x="784" y="303.5" width="18" height="11.3" fill="rgb(255,215,0)"/><rect x="784" y="292.2" width="18" height="11.3" fill="rgb(255,170,0)"/><rect x="784" y="280.9" width="18" height="11.3" fill="rgb(255,125,0)"/><rect x="784" y="269.6" width="18" height="11.3" fill="rgb(255,85,0)"/><rect x="784" y="258.3" width="18" height="11.3" fill="rgb(255,40,0)"/><rect x="784" y="247" width="18" height="11.3" fill="rgb(255,40,40)"/><path d="M784 247L793 207L802 247Z" fill="rgb(255,170,170)" stroke="#000" stroke-width="2" stroke-linejoin="miter"/><path d="M784 473H802M784 462H802M784 450H802M784 439H802M784 428H802M784 416H802M784 405H802M784 394H802M784 383H802M784 371H802M784 360H802M784 349H802M784 337H802M784 326H802M784 315H802M784 304H802M784 292H802M784 281H802M784 270H802M784 258H802M784 247H802M784 247V473 M802 247V473" fill="none" stroke="#000" stroke-width="2" stroke-linecap="square" shape-rendering="crispEdges"/>
<path d="M348.1 91.3L348.1 112.3M348.1 109.3L346.2 111.3L344.3 112.3L341.5 112.3L339.7 111.3L337.8 109.3L336.9 106.3L336.9 104.3L337.8 101.3L339.7 99.3L341.5 98.3L344.3 98.3L346.2 99.3L348.1 101.3M363.9 99.3L362 98.3L359.2 98.3L357.3 99.3L355.5 101.3L354.6 104.3L365.7 104.3L365.7 102.3L364.8 100.3L363.9 99.3M354.6 104.3L354.6 106.3L355.5 109.3L357.3 111.3L359.2 112.3L362 112.3L363.9 111.3L365.7 109.3M372.2 98.3L372.2 112.3M372.2 102.3L375 99.3L376.9 98.3L379.7 98.3L381.5 99.3L382.4 102.3L382.4 112.3M388.9 101.3L389.9 103.3L391.7 104.3L396.4 105.3L398.2 106.3L399.2 108.3L399.2 109.3M389.9 99.3L392.7 98.3L395.5 98.3L398.2 99.3L399.2 101.3M388.9 109.3L389.9 111.3L392.7 112.3L395.5 112.3L398.2 111.3M399.2 108.3L399.2 110.3M405.7 98.3L405.7 112.3M405.7 92.3L404.7 91.3L405.7 90.3L406.6 91.3L405.7 92.3M414 91.3L414 108.3L415 111.3L416.8 112.3L418.7 112.3M411.3 98.3L417.8 98.3M422.4 98.3L428 112.3L433.6 98.3M421.5 119.3L422.4 119.3L424.3 118.3L426.1 116.3L428.9 110.3M464.2 109.3L462.4 111.3L460.5 112.3L457.7 112.3L455.9 111.3L454 109.3L453.1 106.3L453.1 104.3L454 101.3L455.9 99.3L457.7 98.3L460.5 98.3L462.4 99.3L464.2 101.3L465.2 104.3L465.2 106.3L464.2 109.3M477.2 91.3L475.4 91.3L473.5 92.3L472.6 95.3L472.6 112.3M469.8 98.3L476.3 98.3M507.9 109.3L506.1 111.3L504.2 112.3L501.4 112.3L499.6 111.3L497.7 109.3L496.8 106.3L496.8 104.3L497.7 101.3L499.6 99.3L501.4 98.3L504.2 98.3L506.1 99.3L507.9 101.3M514.4 91.3L514.4 112.3M532.1 109.3L530.2 111.3L528.4 112.3L525.6 112.3L523.7 111.3L521.9 109.3L520.9 106.3L520.9 104.3L521.9 101.3L523.7 99.3L525.6 98.3L528.4 98.3L530.2 99.3L532.1 101.3L533 104.3L533 106.3L532.1 109.3M549.7 98.3L549.7 112.3M539.5 98.3L539.5 108.3L540.4 111.3L542.3 112.3L545.1 112.3L547 111.3L549.7 108.3M567.4 91.3L567.4 112.3M567.4 109.3L565.5 111.3L563.7 112.3L560.9 112.3L559 111.3L557.2 109.3L556.2 106.3L556.2 104.3L557.2 101.3L559 99.3L560.9 98.3L563.7 98.3L565.5 99.3L567.4 101.3" fill="none" stroke="#000" stroke-width="1.35" stroke-linecap="round" stroke-linejoin="round"/>
<path d="M52.5 137.4L51.4 136.4L50.2 134.9L49.1 132.9L48.6 130.4L48.6 128.3L49.1 125.8M50.2 123.8L51.4 122.3L52.5 121.3M49.7 124.8L51.4 122.3M57.4 125.8L65.1 132.9M65.1 125.8L57.4 132.9M71.7 125.3L72.8 124.8L74.5 123.3L74.5 133.9M88.2 131.9L87.1 133.4L85.4 133.9L84.3 133.9L82.7 133.4L81.6 131.9L81 129.4L81 127.8L81.6 125.3L82.7 123.8L84.3 123.3L85.4 123.3L87.1 123.8L88.2 125.3L88.8 127.8L88.8 129.4L88.2 131.9M99.2 131.9L98.1 133.4L96.4 133.9L95.3 133.9L93.7 133.4L92.6 131.9L92 129.4L92 127.8L92.6 125.3L93.7 123.8L95.3 123.3L96.4 123.3L98.1 123.8L99.2 125.3L99.8 127.8L99.8 129.4L99.2 131.9M110.2 131.9L109.1 133.4L107.4 133.9L106.3 133.9L104.7 133.4L103.6 131.9L103 129.4L103 127.8L103.6 125.3L104.7 123.8L106.3 123.3L107.4 123.3L109.1 123.8L110.2 125.3L110.8 127.8L110.8 129.4L110.2 131.9M123.4 126.8L123.4 133.9M123.4 128.9L125 127.3L126.2 126.8L127.8 126.8L128.9 127.3L129.4 128.9L129.4 133.9M129.4 128.9L131.1 127.3L132.2 126.8L133.8 126.8L134.9 127.3L135.5 128.9L135.5 133.9M139.3 121.3L140.4 122.3L141.5 123.8L142.6 125.8L143.2 128.3L143.2 130.4L142.6 132.9M139.3 137.4L140.4 136.4L141.5 134.9M140.4 136.4L142.6 133.4L143.2 129.9" fill="none" stroke="#000" stroke-width="1.7" stroke-linecap="round" stroke-linejoin="round"/>
<path d="M689.6 520.5L688.5 519.5L687.4 518L686.2 516L685.7 513.5L685.7 511.4L686.2 508.9M687.4 506.9L688.5 505.4L689.6 504.4M686.8 507.9L688.5 505.4M694.5 508.9L702.2 516M702.2 508.9L694.5 516M708.8 508.4L709.9 507.9L711.6 506.4L711.6 517M725.3 515L724.2 516.5L722.5 517L721.5 517L719.8 516.5L718.7 515L718.1 512.5L718.1 510.9L718.7 508.4L719.8 506.9L721.5 506.4L722.5 506.4L724.2 506.9L725.3 508.4L725.9 510.9L725.9 512.5L725.3 515M736.3 515L735.2 516.5L733.5 517L732.5 517L730.8 516.5L729.7 515L729.1 512.5L729.1 510.9L729.7 508.4L730.8 506.9L732.5 506.4L733.5 506.4L735.2 506.9L736.3 508.4L736.9 510.9L736.9 512.5L736.3 515M747.3 515L746.2 516.5L744.5 517L743.5 517L741.8 516.5L740.7 515L740.1 512.5L740.1 510.9L740.7 508.4L741.8 506.9L743.5 506.4L744.5 506.4L746.2 506.9L747.3 508.4L747.9 510.9L747.9 512.5L747.3 515M760.5 509.9L760.5 517M760.5 512L762.1 510.4L763.2 509.9L764.9 509.9L766 510.4L766.5 512L766.5 517M766.5 512L768.2 510.4L769.3 509.9L770.9 509.9L772 510.4L772.6 512L772.6 517M776.4 504.4L777.5 505.4L778.6 506.9L779.8 508.9L780.3 511.4L780.3 513.5L779.8 516M776.4 520.5L777.5 519.5L778.6 518M777.5 519.5L779.8 516.5L780.3 513" fill="none" stroke="#000" stroke-width="1.7" stroke-linecap="round" stroke-linejoin="round"/>
<path d="M780.4 157.6L780.4 166.5L780.9 168.1L781.9 168.6L783 168.6M778.8 161.3L782.4 161.3M786.1 162.3L795.5 162.3M786.1 165.5L795.5 165.5M800.7 159.7L801.7 159.2L803.3 157.6L803.3 168.6M816.3 166.5L815.3 168.1L813.7 168.6L812.7 168.6L811.1 168.1L810.1 166.5L809.5 163.9L809.5 162.3L810.1 159.7L811.1 158.1L812.7 157.6L813.7 157.6L815.3 158.1L816.3 159.7L816.8 162.3L816.8 163.9L816.3 166.5M826.7 166.5L825.7 168.1L824.1 168.6L823.1 168.6L821.5 168.1L820.5 166.5L820 163.9L820 162.3L820.5 159.7L821.5 158.1L823.1 157.6L824.1 157.6L825.7 158.1L826.7 159.7L827.2 162.3L827.2 163.9L826.7 166.5M830.9 159.2L830.9 160.2L831.4 161.3L832.5 161.8L834.5 162.3L836.1 162.8L837.1 163.9L837.7 164.9L837.7 167L836.6 168.1L835.1 168.6L833 168.6L831.4 168.1L830.9 167.6L830.4 166.5L830.4 164.9M831.4 158.1L833 157.6L835.1 157.6L836.6 158.1L837.1 159.2L837.1 160.7M830.9 163.9L831.9 162.8L833.5 162.3L835.6 161.8L836.6 161.3M837.7 164.9L837.7 166.5M837.1 159.2L837.1 160.2M836.6 168.1L837.1 167.6M847.6 166.5L846.5 168.1L845 168.6L843.9 168.6L842.4 168.1L841.3 166.5L840.8 163.9L840.8 162.3L841.3 159.7L842.4 158.1L843.9 157.6L845 157.6L846.5 158.1L847.6 159.7L848.1 162.3L848.1 163.9L847.6 166.5M858 166.5L856.9 168.1L855.4 168.6L854.3 168.6L852.8 168.1L851.7 166.5L851.2 163.9L851.2 162.3L851.7 159.7L852.8 158.1L854.3 157.6L855.4 157.6L856.9 158.1L858 159.7L858.5 162.3L858.5 163.9L858 166.5M870 162.8L870.5 163.9L871.5 164.4L874.1 164.9L875.2 165.5L875.7 166.5L875.7 167M870.5 161.8L872.1 161.3L873.6 161.3L875.2 161.8L875.7 162.8M870 167L870.5 168.1L872.1 168.6L873.6 168.6L875.2 168.1M875.7 166.5L875.7 167.6" fill="none" stroke="#000" stroke-width="1.3" stroke-linecap="round" stroke-linejoin="round"/>
<path d="M106.6 230.7L107.9 230.1L109.8 228.5L109.8 239.9M117.3 237.7L118 238.8L118.6 239.4L120.5 239.9L122.4 239.9L124.3 239.4L125.6 238.3L126.2 236.6L126.2 235.6L125.6 233.9L124.3 232.8L122.4 232.3L120.5 232.3L118.6 232.8L118 233.4L118.6 228.5L124.9 228.5" fill="none" stroke="#000" stroke-width="1.9" stroke-linecap="round" stroke-linejoin="round"/>
<path d="M106.6 311.1L107.9 310.5L109.8 308.9L109.8 320.3M125.6 318.1L124.3 319.8L122.4 320.3L121.1 320.3L119.2 319.8L118 318.1L117.3 315.4L117.3 313.8L118 311.1L119.2 309.4L121.1 308.9L122.4 308.9L124.3 309.4L125.6 311.1L126.2 313.8L126.2 315.4L125.6 318.1" fill="none" stroke="#000" stroke-width="1.9" stroke-linecap="round" stroke-linejoin="round"/>
<path d="M117 397.7L117.7 398.8L118.3 399.4L120.3 399.9L122.3 399.9L124.2 399.4L125.5 398.3L126.2 396.6L126.2 395.6L125.5 393.9L124.2 392.8L122.3 392.3L120.3 392.3L118.3 392.8L117.7 393.4L118.3 388.5L124.9 388.5" fill="none" stroke="#000" stroke-width="1.9" stroke-linecap="round" stroke-linejoin="round"/>
<path d="M190.7 490.6L181.1 490.6L187.5 483.1L187.5 494.4" fill="none" stroke="#000" stroke-width="1.9" stroke-linecap="round" stroke-linejoin="round"/>
<path d="M232.6 484.7L232.6 485.8L233.3 486.9L234.7 487.4L237.4 487.9L239.5 488.5L240.9 489.6L241.5 490.6L241.5 492.8L240.2 493.9L238.1 494.4L235.4 494.4L233.3 493.9L232.6 493.3L231.9 492.2L231.9 490.6M233.3 483.6L235.4 483.1L238.1 483.1L240.2 483.6L240.9 484.7L240.9 486.3M232.6 489.6L234 488.5L236.1 487.9L238.8 487.4L240.2 486.9M241.5 490.6L241.5 492.2M240.9 484.7L240.9 485.8M240.2 493.9L240.9 493.3" fill="none" stroke="#000" stroke-width="1.9" stroke-linecap="round" stroke-linejoin="round"/>
<path d="M277.8 485.3L279 484.7L280.9 483.1L280.9 494.4M296.1 487.4L294.8 489L288.5 494.4L297.4 494.4M289.8 484.2L290.4 483.6L291.7 483.1L294.2 483.1L295.5 483.6L296.1 484.2L296.7 485.3L296.7 486.3M289.1 485.3L289.1 485.8M296.7 485.3L296.7 486.9" fill="none" stroke="#000" stroke-width="1.9" stroke-linecap="round" stroke-linejoin="round"/>
<path d="M328.6 485.3L329.8 484.7L331.7 483.1L331.7 494.4M347.5 484.7L346.9 483.6L345 483.1L343.8 483.1L341.9 483.6L340.6 485.3L340 487.9L340 490.6L340.6 492.8L341.9 493.9L343.8 494.4L344.4 494.4L346.3 493.9L347.5 492.8L348.2 491.2L348.2 490.6L347.5 489L346.3 487.9L344.4 487.4L343.8 487.4L341.9 487.9L340.6 489L340 490.6" fill="none" stroke="#000" stroke-width="1.9" stroke-linecap="round" stroke-linejoin="round"/>
<path d="M386.3 487.4L385.2 489L379.4 494.4L387.5 494.4M380.6 484.2L381.1 483.6L382.3 483.1L384.6 483.1L385.7 483.6L386.3 484.2L386.9 485.3L386.9 486.3M380 485.3L380 485.8M386.9 485.3L386.9 486.9M398.4 492.2L397.3 493.9L395.5 494.4L394.4 494.4L392.7 493.9L391.5 492.2L390.9 489.6L390.9 487.9L391.5 485.3L392.7 483.6L394.4 483.1L395.5 483.1L397.3 483.6L398.4 485.3L399 487.9L399 489.6L398.4 492.2" fill="none" stroke="#000" stroke-width="1.9" stroke-linecap="round" stroke-linejoin="round"/>
<path d="M436.9 487.4L435.8 489L430.2 494.4L438.1 494.4M431.3 484.2L431.9 483.6L433 483.1L435.3 483.1L436.4 483.6L436.9 484.2L437.5 485.3L437.5 486.3M430.8 485.3L430.8 485.8M437.5 485.3L437.5 486.9M449.8 490.6L441.4 490.6L447 483.1L447 494.4" fill="none" stroke="#000" stroke-width="1.9" stroke-linecap="round" stroke-linejoin="round"/>
<path d="M488 487.4L486.8 489L481 494.4L489.1 494.4M482.2 484.2L482.8 483.6L483.9 483.1L486.2 483.1L487.4 483.6L488 484.2L488.5 485.3L488.5 486.3M481.6 485.3L481.6 485.8M488.5 485.3L488.5 486.9M493.1 484.7L493.1 485.8L493.7 486.9L494.9 487.4L497.2 487.9L498.9 488.5L500.1 489.6L500.6 490.6L500.6 492.8L499.5 493.9L497.8 494.4L495.5 494.4L493.7 493.9L493.1 493.3L492.6 492.2L492.6 490.6M493.7 483.6L495.5 483.1L497.8 483.1L499.5 483.6L500.1 484.7L500.1 486.3M493.1 489.6L494.3 488.5L496 487.9L498.3 487.4L499.5 486.9M500.6 490.6L500.6 492.2M500.1 484.7L500.1 485.8M499.5 493.9L500.1 493.3" fill="none" stroke="#000" stroke-width="1.9" stroke-linecap="round" stroke-linejoin="round"/>
<path d="M533 483.1L539.4 483.1L535.9 487.4L537.6 487.4L538.8 487.9L539.4 488.5L539.9 490.1L539.9 491.2L539.4 492.8L538.2 493.9L536.5 494.4L534.7 494.4L533 493.9L532.4 493.3L531.9 492.2M550.3 487.4L549.2 489L543.4 494.4L551.5 494.4M544.5 484.2L545.1 483.6L546.3 483.1L548.6 483.1L549.7 483.6L550.3 484.2L550.9 485.3L550.9 486.3M544 485.3L544 485.8M550.9 485.3L550.9 486.9" fill="none" stroke="#000" stroke-width="1.9" stroke-linecap="round" stroke-linejoin="round"/>
<path d="M583.8 483.1L590.2 483.1L586.7 487.4L588.4 487.4L589.6 487.9L590.2 488.5L590.8 490.1L590.8 491.2L590.2 492.8L589 493.9L587.3 494.4L585.6 494.4L583.8 493.9L583.3 493.3L582.7 492.2M601.7 484.7L601.1 483.6L599.4 483.1L598.2 483.1L596.5 483.6L595.4 485.3L594.8 487.9L594.8 490.6L595.4 492.8L596.5 493.9L598.2 494.4L598.8 494.4L600.6 493.9L601.7 492.8L602.3 491.2L602.3 490.6L601.7 489L600.6 487.9L598.8 487.4L598.2 487.4L596.5 487.9L595.4 489L594.8 490.6" fill="none" stroke="#000" stroke-width="1.9" stroke-linecap="round" stroke-linejoin="round"/>
<path d="M642.1 490.6L633.5 490.6L639.3 483.1L639.3 494.4M652.5 492.2L651.4 493.9L649.6 494.4L648.5 494.4L646.8 493.9L645.6 492.2L645 489.6L645 487.9L645.6 485.3L646.8 483.6L648.5 483.1L649.6 483.1L651.4 483.6L652.5 485.3L653.1 487.9L653.1 489.6L652.5 492.2" fill="none" stroke="#000" stroke-width="1.9" stroke-linecap="round" stroke-linejoin="round"/>
<path d="M692.7 490.6L684.3 490.6L689.9 483.1L689.9 494.4M703.9 490.6L695.5 490.6L701.1 483.1L701.1 494.4" fill="none" stroke="#000" stroke-width="1.9" stroke-linecap="round" stroke-linejoin="round"/>
<path d="M743.8 490.6L735.1 490.6L740.9 483.1L740.9 494.4M747.2 484.7L747.2 485.8L747.8 486.9L749 487.4L751.3 487.9L753 488.5L754.2 489.6L754.7 490.6L754.7 492.8L753.6 493.9L751.9 494.4L749.6 494.4L747.8 493.9L747.2 493.3L746.7 492.2L746.7 490.6M747.8 483.6L749.6 483.1L751.9 483.1L753.6 483.6L754.2 484.7L754.2 486.3M747.2 489.6L748.4 488.5L750.1 487.9L752.4 487.4L753.6 486.9M754.7 490.6L754.7 492.2M754.2 484.7L754.2 485.8M753.6 493.9L754.2 493.3" fill="none" stroke="#000" stroke-width="1.9" stroke-linecap="round" stroke-linejoin="round"/>
<path d="M379.4 530.6L389.8 546.2M379.4 546.2L389.8 530.6M415.2 544L413.7 545.5L412.2 546.2L410 546.2L408.5 545.5L407 544L406.3 541.7L406.3 540.3L407 538L408.5 536.5L410 535.8L412.2 535.8L413.7 536.5L415.2 538M428.7 544L427.2 545.5L425.7 546.2L423.4 546.2L421.9 545.5L420.5 544L419.7 541.7L419.7 540.3L420.5 538L421.9 536.5L423.4 535.8L425.7 535.8L427.2 536.5L428.7 538L429.4 540.3L429.4 541.7L428.7 544M442.8 544L441.4 545.5L439.9 546.2L437.6 546.2L436.1 545.5L434.6 544L433.9 541.7L433.9 540.3L434.6 538L436.1 536.5L437.6 535.8L439.9 535.8L441.4 536.5L442.8 538L443.6 540.3L443.6 541.7L442.8 544M448.8 535.8L448.8 546.2M448.8 540.3L449.6 538L451.1 536.5L452.5 535.8L454.8 535.8M466.7 530.6L466.7 546.2M466.7 544L465.2 545.5L463.7 546.2L461.5 546.2L460 545.5L458.5 544L457.8 541.7L457.8 540.3L458.5 538L460 536.5L461.5 535.8L463.7 535.8L465.2 536.5L466.7 538M472.7 535.8L472.7 546.2M472.7 531.3L472 530.6L472.7 529.9L473.4 530.6L472.7 531.3M478.7 535.8L478.7 546.2M478.7 538.8L480.9 536.5L482.4 535.8L484.6 535.8L486.1 536.5L486.9 538.8L486.9 546.2M501.1 535.8L501.1 546.2M501.1 544L499.6 545.5L498.1 546.2L495.8 546.2L494.3 545.5L492.9 544L492.1 541.7L492.1 540.3L492.9 538L494.3 536.5L495.8 535.8L498.1 535.8L499.6 536.5L501.1 538M507.8 530.6L507.8 543.2L508.5 545.5L510 546.2L511.5 546.2M505.5 535.8L510.8 535.8M522.7 536.5L521.2 535.8L519 535.8L517.5 536.5L516 538L515.2 540.3L524.2 540.3L524.2 538.8L523.5 537.3L522.7 536.5M515.2 540.3L515.2 541.7L516 544L517.5 545.5L519 546.2L521.2 546.2L522.7 545.5L524.2 544" fill="none" stroke="#000" stroke-width="1.5" stroke-linecap="round" stroke-linejoin="round"/>
<path transform="translate(89.7 387.5) rotate(-90)" d="M10.4 0L0 0L10.4 -15.6L0 -15.6M35.8 -2.2L34.3 -0.7L32.8 0L30.6 0L29.1 -0.7L27.6 -2.2L26.8 -4.5L26.8 -5.9L27.6 -8.2L29.1 -9.7L30.6 -10.4L32.8 -10.4L34.3 -9.7L35.8 -8.2M49.2 -2.2L47.7 -0.7L46.2 0L44 0L42.5 -0.7L41 -2.2L40.2 -4.5L40.2 -5.9L41 -8.2L42.5 -9.7L44 -10.4L46.2 -10.4L47.7 -9.7L49.2 -8.2L49.9 -5.9L49.9 -4.5L49.2 -2.2M63.4 -2.2L61.9 -0.7L60.4 0L58.1 0L56.6 -0.7L55.2 -2.2L54.4 -4.5L54.4 -5.9L55.2 -8.2L56.6 -9.7L58.1 -10.4L60.4 -10.4L61.9 -9.7L63.4 -8.2L64.1 -5.9L64.1 -4.5L63.4 -2.2M69.3 -10.4L69.3 0M69.3 -5.9L70.1 -8.2L71.6 -9.7L73 -10.4L75.3 -10.4M87.2 -15.6L87.2 0M87.2 -2.2L85.7 -0.7L84.2 0L82 0L80.5 -0.7L79 -2.2L78.3 -4.5L78.3 -5.9L79 -8.2L80.5 -9.7L82 -10.4L84.2 -10.4L85.7 -9.7L87.2 -8.2M93.2 -10.4L93.2 0M93.2 -14.9L92.4 -15.6L93.2 -16.3L93.9 -15.6L93.2 -14.9M99.1 -10.4L99.1 0M99.1 -7.4L101.4 -9.7L102.9 -10.4L105.1 -10.4L106.6 -9.7L107.3 -7.4L107.3 0M121.5 -10.4L121.5 0M121.5 -2.2L120 -0.7L118.5 0L116.3 0L114.8 -0.7L113.3 -2.2L112.5 -4.5L112.5 -5.9L113.3 -8.2L114.8 -9.7L116.3 -10.4L118.5 -10.4L120 -9.7L121.5 -8.2M128.2 -15.6L128.2 -3L128.9 -0.7L130.4 0L131.9 0M126 -10.4L131.2 -10.4M143.1 -9.7L141.6 -10.4L139.4 -10.4L137.9 -9.7L136.4 -8.2L135.7 -5.9L144.6 -5.9L144.6 -7.4L143.9 -8.9L143.1 -9.7M135.7 -5.9L135.7 -4.5L136.4 -2.2L137.9 -0.7L139.4 0L141.6 0L143.1 -0.7L144.6 -2.2" fill="none" stroke="#000" stroke-width="1.5" stroke-linecap="round" stroke-linejoin="round"/>
<path d="M817.6 268.1L816.6 269.7L811.6 275L818.6 275M812.6 264.9L813.1 264.3L814.1 263.8L816.1 263.8L817.1 264.3L817.6 264.9L818.1 265.9L818.1 267M812.1 265.9L812.1 266.5M818.1 265.9L818.1 267.5M822.7 275L822.2 274.5L822.7 273.9L823.2 274.5L822.7 275M832.7 268.1L831.7 269.7L826.7 275L833.7 275M827.7 264.9L828.2 264.3L829.2 263.8L831.2 263.8L832.2 264.3L832.7 264.9L833.2 265.9L833.2 267M827.2 265.9L827.2 266.5M833.2 265.9L833.2 267.5M836.8 272.9L837.3 273.9L837.8 274.5L839.3 275L840.8 275L842.3 274.5L843.3 273.4L843.8 271.8L843.8 270.7L843.3 269.1L842.3 268.1L840.8 267.5L839.3 267.5L837.8 268.1L837.3 268.6L837.8 263.8L842.8 263.8M851.8 268.1L850.8 267.5L849.3 267.5L848.3 268.1L847.3 269.1L846.8 270.7L852.9 270.7L852.9 269.7L852.4 268.6L851.8 268.1M846.8 270.7L846.8 271.8L847.3 273.4L848.3 274.5L849.3 275L850.8 275L851.8 274.5L852.9 273.4M856.4 270.2L865.4 270.2M876.5 271.3L869 271.3L874 263.8L874 275" fill="none" stroke="#000" stroke-width="1.9" stroke-linecap="round" stroke-linejoin="round"/>
<path d="M812.8 300L813.8 299.5L815.3 297.9L815.3 309.1M822.4 309.1L821.9 308.6L822.4 308L822.9 308.6L822.4 309.1M827 299.5L827 300.6L827.5 301.6L828.5 302.2L830.5 302.7L832 303.2L833 304.3L833.5 305.4L833.5 307.5L832.5 308.6L831 309.1L829 309.1L827.5 308.6L827 308L826.4 307L826.4 305.4M827.5 298.4L829 297.9L831 297.9L832.5 298.4L833 299.5L833 301.1M827 304.3L828 303.2L829.5 302.7L831.5 302.2L832.5 301.6M833.5 305.4L833.5 307M833 299.5L833 300.6M832.5 308.6L833 308M837.1 299.5L837.1 300.6L837.6 301.6L838.6 302.2L840.6 302.7L842.1 303.2L843.1 304.3L843.6 305.4L843.6 307.5L842.6 308.6L841.1 309.1L839.1 309.1L837.6 308.6L837.1 308L836.6 307L836.6 305.4M837.6 298.4L839.1 297.9L841.1 297.9L842.6 298.4L843.1 299.5L843.1 301.1M837.1 304.3L838.1 303.2L839.6 302.7L841.6 302.2L842.6 301.6M843.6 305.4L843.6 307M843.1 299.5L843.1 300.6M842.6 308.6L843.1 308M851.7 302.2L850.7 301.6L849.2 301.6L848.2 302.2L847.2 303.2L846.7 304.8L852.7 304.8L852.7 303.8L852.2 302.7L851.7 302.2M846.7 304.8L846.7 305.9L847.2 307.5L848.2 308.6L849.2 309.1L850.7 309.1L851.7 308.6L852.7 307.5M856.3 304.3L865.4 304.3M876.5 305.4L868.9 305.4L874 297.9L874 309.1" fill="none" stroke="#000" stroke-width="1.9" stroke-linecap="round" stroke-linejoin="round"/>
<path d="M812.8 333.9L813.8 333.4L815.3 331.8L815.3 343M822.4 343L821.9 342.5L822.4 341.9L822.9 342.5L822.4 343M826.4 340.9L826.9 341.9L827.4 342.5L828.9 343L830.4 343L831.9 342.5L833 341.4L833.5 339.8L833.5 338.7L833 337.1L831.9 336.1L830.4 335.5L828.9 335.5L827.4 336.1L826.9 336.6L827.4 331.8L832.4 331.8M841.5 336.1L840.5 335.5L839 335.5L838 336.1L837 337.1L836.5 338.7L842.5 338.7L842.5 337.7L842 336.6L841.5 336.1M836.5 338.7L836.5 339.8L837 341.4L838 342.5L839 343L840.5 343L841.5 342.5L842.5 341.4M846 338.2L855.1 338.2M866.2 339.3L858.6 339.3L863.7 331.8L863.7 343" fill="none" stroke="#000" stroke-width="1.9" stroke-linecap="round" stroke-linejoin="round"/>
<path d="M812.8 367.9L813.8 367.4L815.3 365.8L815.3 377M822.4 377L821.9 376.5L822.4 375.9L822.9 376.5L822.4 377M828 367.9L829 367.4L830.5 365.8L830.5 377M842.6 370.1L841.6 371.7L836.6 377L843.6 377M837.6 366.9L838.1 366.3L839.1 365.8L841.1 365.8L842.1 366.3L842.6 366.9L843.1 367.9L843.1 369M837.1 367.9L837.1 368.5M843.1 367.9L843.1 369.5M851.7 370.1L850.7 369.5L849.2 369.5L848.2 370.1L847.2 371.1L846.7 372.7L852.7 372.7L852.7 371.7L852.2 370.6L851.7 370.1M846.7 372.7L846.7 373.8L847.2 375.4L848.2 376.5L849.2 377L850.7 377L851.7 376.5L852.7 375.4M856.3 372.2L865.4 372.2M876.5 373.3L868.9 373.3L874 365.8L874 377" fill="none" stroke="#000" stroke-width="1.9" stroke-linecap="round" stroke-linejoin="round"/>
<path d="M813.6 410.2L818.7 399L811.6 399M822.7 410.2L822.2 409.7L822.7 409.1L823.2 409.7L822.7 410.2M826.8 408.1L827.3 409.1L827.8 409.7L829.3 410.2L830.8 410.2L832.3 409.7L833.3 408.6L833.8 407L833.8 405.9L833.3 404.3L832.3 403.3L830.8 402.7L829.3 402.7L827.8 403.3L827.3 403.8L827.8 399L832.8 399M841.9 403.3L840.9 402.7L839.4 402.7L838.4 403.3L837.4 404.3L836.9 405.9L842.9 405.9L842.9 404.9L842.4 403.8L841.9 403.3M836.9 405.9L836.9 407L837.4 408.6L838.4 409.7L839.4 410.2L840.9 410.2L841.9 409.7L842.9 408.6M846.5 405.4L855.6 405.4M859.1 408.1L859.6 409.1L860.1 409.7L861.7 410.2L863.2 410.2L864.7 409.7L865.7 408.6L866.2 407L866.2 405.9L865.7 404.3L864.7 403.3L863.2 402.7L861.7 402.7L860.1 403.3L859.6 403.8L860.1 399L865.2 399" fill="none" stroke="#000" stroke-width="1.9" stroke-linecap="round" stroke-linejoin="round"/>
<path d="M812.6 433.1L818.2 433.1L815.1 437.4L816.7 437.4L817.7 437.9L818.2 438.4L818.7 440L818.7 441.1L818.2 442.7L817.2 443.8L815.7 444.3L814.1 444.3L812.6 443.8L812.1 443.2L811.6 442.2M822.8 444.3L822.2 443.8L822.8 443.2L823.3 443.8L822.8 444.3M828.8 444.3L833.9 433.1L826.8 433.1M837 442.2L837.5 443.2L838 443.8L839.5 444.3L841 444.3L842.5 443.8L843.5 442.7L844 441.1L844 440L843.5 438.4L842.5 437.4L841 436.8L839.5 436.8L838 437.4L837.5 437.9L838 433.1L843 433.1M852.2 437.4L851.1 436.8L849.6 436.8L848.6 437.4L847.6 438.4L847.1 440L853.2 440L853.2 439L852.7 437.9L852.2 437.4M847.1 440L847.1 441.1L847.6 442.7L848.6 443.8L849.6 444.3L851.1 444.3L852.2 443.8L853.2 442.7M856.7 439.5L865.9 439.5M869.4 442.2L869.9 443.2L870.4 443.8L871.9 444.3L873.5 444.3L875 443.8L876 442.7L876.5 441.1L876.5 440L876 438.4L875 437.4L873.5 436.8L871.9 436.8L870.4 437.4L869.9 437.9L870.4 433.1L875.5 433.1" fill="none" stroke="#000" stroke-width="1.9" stroke-linecap="round" stroke-linejoin="round"/>
<path d="M812.8 469L813.8 468.5L815.3 466.9L815.3 478.1M826.5 471.2L825.5 470.6L824 470.6L822.9 471.2L821.9 472.2L821.4 473.8L827.5 473.8L827.5 472.8L827 471.7L826.5 471.2M821.4 473.8L821.4 474.9L821.9 476.5L822.9 477.6L824 478.1L825.5 478.1L826.5 477.6L827.5 476.5M831.1 473.3L840.2 473.3M845.3 469L846.3 468.5L847.8 466.9L847.8 478.1M860.5 468.5L860 467.4L858.5 466.9L857.4 466.9L855.9 467.4L854.9 469L854.4 471.7L854.4 474.4L854.9 476.5L855.9 477.6L857.4 478.1L858 478.1L859.5 477.6L860.5 476.5L861 474.9L861 474.4L860.5 472.8L859.5 471.7L858 471.2L857.4 471.2L855.9 471.7L854.9 472.8L854.4 474.4" fill="none" stroke="#000" stroke-width="1.9" stroke-linecap="round" stroke-linejoin="round"/>
</svg>
</body></html>
